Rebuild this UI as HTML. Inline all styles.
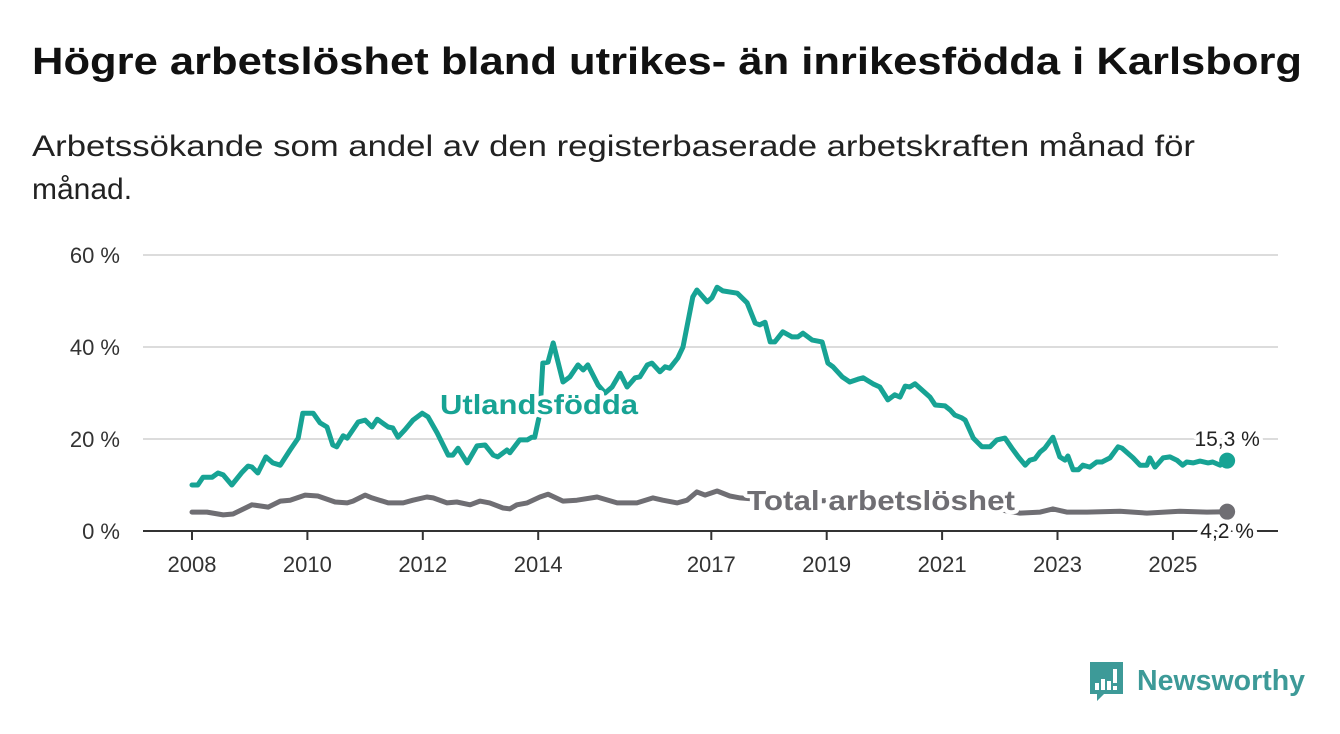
<!DOCTYPE html>
<html><head><meta charset="utf-8"><style>
html,body{margin:0;padding:0;background:#fff;}
svg{display:block;font-family:"Liberation Sans",sans-serif;}
</style></head><body>
<svg id="chart" width="1340" height="734" viewBox="0 0 1340 734">
<text x="32" y="74" font-size="38" font-weight="bold" fill="#111" textLength="1270" lengthAdjust="spacingAndGlyphs">Högre arbetslöshet bland utrikes- än inrikesfödda i Karlsborg</text>
<text x="32" y="156" font-size="30" fill="#222" textLength="1163" lengthAdjust="spacingAndGlyphs">Arbetssökande som andel av den registerbaserade arbetskraften månad för</text>
<text x="32" y="199" font-size="30" fill="#222">månad.</text>
<g id="grid"></g><g id="series"></g><g id="labels"></g>
<g>
<path d="M1090 662 h33 v32 h-19 l-7 7 v-7 h-7 z" fill="#3d9a98"/>
<rect x="1095" y="683" width="4" height="7" fill="#fff"/><rect x="1101" y="679" width="4" height="11" fill="#fff"/><rect x="1107" y="681" width="4" height="9" fill="#fff"/><rect x="1113" y="669" width="4" height="14" fill="#fff"/><rect x="1113" y="686" width="4" height="4" fill="#fff"/>
<text x="1137" y="690" font-size="29" font-weight="bold" fill="#3d9a98" textLength="168" lengthAdjust="spacingAndGlyphs">Newsworthy</text>
</g>
</svg>
<script>
const yTicks=[0,20,40,60];
const xTickYears=[2008,2010,2012,2014,2017,2019,2021,2023,2025];
const utlandsDates=[2008.00,2008.10,2008.19,2008.35,2008.45,2008.54,2008.69,2008.87,2008.97,2009.04,2009.14,2009.28,2009.40,2009.53,2009.70,2009.84,2009.92,2010.10,2010.22,2010.34,2010.44,2010.51,2010.62,2010.69,2010.88,2011.00,2011.12,2011.21,2011.40,2011.48,2011.57,2011.69,2011.83,2011.99,2012.09,2012.25,2012.44,2012.52,2012.61,2012.77,2012.94,2013.08,2013.22,2013.30,2013.46,2013.51,2013.68,2013.81,2013.89,2013.94,2014.03,2014.08,2014.17,2014.26,2014.43,2014.55,2014.69,2014.78,2014.86,2015.04,2015.16,2015.28,2015.42,2015.54,2015.68,2015.76,2015.89,2015.97,2016.11,2016.20,2016.28,2016.42,2016.51,2016.68,2016.75,2016.93,2017.01,2017.10,2017.20,2017.45,2017.62,2017.76,2017.84,2017.93,2018.02,2018.10,2018.24,2018.40,2018.50,2018.59,2018.75,2018.92,2019.02,2019.11,2019.27,2019.40,2019.54,2019.63,2019.80,2019.92,2020.06,2020.18,2020.27,2020.36,2020.44,2020.53,2020.79,2020.88,2021.05,2021.14,2021.22,2021.34,2021.40,2021.54,2021.69,2021.83,2021.95,2022.09,2022.21,2022.32,2022.44,2022.52,2022.61,2022.70,2022.78,2022.92,2023.04,2023.13,2023.18,2023.27,2023.36,2023.44,2023.56,2023.68,2023.77,2023.91,2024.05,2024.12,2024.31,2024.43,2024.55,2024.60,2024.69,2024.83,2024.95,2025.07,2025.17,2025.24,2025.35,2025.47,2025.61,2025.69,2025.82,2025.94];
const utlandsValues=[10.0,10.0,11.7,11.7,12.6,12.2,10.0,12.8,14.1,13.9,12.6,16.1,14.8,14.3,17.6,20.2,25.6,25.6,23.5,22.6,18.7,18.3,20.7,20.2,23.7,24.1,22.6,24.3,22.6,22.4,20.4,22.0,24.1,25.6,24.8,21.3,16.5,16.5,18.0,14.8,18.5,18.7,16.5,16.1,17.6,17.0,19.8,19.8,20.4,20.4,25.6,36.5,36.7,40.9,32.4,33.5,36.1,35.0,36.1,31.7,30.0,31.3,34.3,31.3,33.3,33.5,36.1,36.5,34.6,35.7,35.4,37.6,40.0,50.9,52.4,49.8,50.7,53.0,52.2,51.7,49.6,45.2,44.8,45.4,41.1,41.1,43.3,42.2,42.2,43.0,41.5,41.1,36.5,35.7,33.5,32.4,33.0,33.3,32.0,31.3,28.5,29.6,29.1,31.5,31.3,32.0,29.1,27.4,27.2,26.3,25.2,24.6,24.1,20.2,18.3,18.3,19.8,20.2,18.0,16.1,14.3,15.4,15.7,17.2,18.0,20.4,16.1,15.4,16.3,13.3,13.3,14.3,13.9,15.0,15.0,15.9,18.3,18.0,15.9,14.3,14.3,15.9,13.9,15.9,16.1,15.4,14.3,15.0,14.8,15.2,14.8,15.0,14.3,15.3];
const totalDates=[2008.00,2008.26,2008.54,2008.71,2009.04,2009.32,2009.53,2009.70,2009.96,2010.18,2010.48,2010.69,2010.79,2011.00,2011.12,2011.40,2011.66,2011.83,2012.07,2012.18,2012.42,2012.59,2012.82,2012.99,2013.16,2013.39,2013.51,2013.63,2013.81,2014.03,2014.17,2014.43,2014.67,2015.02,2015.37,2015.71,2015.99,2016.16,2016.41,2016.58,2016.75,2016.89,2017.10,2017.32,2017.50,2017.90,2018.50,2019.00,2019.50,2020.00,2020.50,2021.00,2021.50,2022.00,2022.35,2022.70,2022.92,2023.16,2023.51,2024.08,2024.55,2025.12,2025.59,2025.94];
const totalValues=[4.1,4.1,3.5,3.7,5.7,5.2,6.5,6.7,7.8,7.6,6.3,6.1,6.5,7.8,7.2,6.1,6.1,6.7,7.4,7.2,6.1,6.3,5.7,6.5,6.1,5.0,4.8,5.7,6.1,7.4,8.0,6.5,6.7,7.4,6.1,6.1,7.2,6.7,6.1,6.7,8.5,7.8,8.7,7.6,7.2,6.8,6.5,6.6,6.0,5.6,6.4,6.6,5.2,4.6,3.9,4.1,4.8,4.1,4.1,4.3,3.9,4.3,4.1,4.2];

const NS='http://www.w3.org/2000/svg';
const x0=143,x1=1278;
function xScale(yr){return 192+(yr-2008)*57.7;}
function yScale(v){return 531-v*4.6;}
function mk(tag,attrs,parent){const e=document.createElementNS(NS,tag);for(const k in attrs)e.setAttribute(k,attrs[k]);parent.appendChild(e);return e;}
const grid=document.getElementById('grid'),series=document.getElementById('series'),labels=document.getElementById('labels');
yTicks.forEach(t=>{
  if(t>0){const gl=mk('line',{x1:x0,x2:x1,y1:yScale(t),y2:yScale(t),stroke:'#dcdcdc','stroke-width':2},grid);
  
  }
  const tl=mk('text',{x:120,y:yScale(t)+8,'text-anchor':'end','font-size':22,fill:'#333'},grid);
  tl.textContent=t+' %';
  
  
});
const ax=mk('line',{x1:x0,x2:x1,y1:yScale(0),y2:yScale(0),stroke:'#333','stroke-width':2},grid);


xTickYears.forEach(y=>{
  const tk=mk('line',{x1:xScale(y),x2:xScale(y),y1:531,y2:540,stroke:'#333','stroke-width':2},grid);
  
  
  const tl=mk('text',{x:xScale(y),y:572,'text-anchor':'middle','font-size':22,fill:'#333'},grid);
  tl.textContent=y;
  
  
});
function line(dates,vals,color,name){
  const d=dates.map((t,i)=>(i?'L':'M')+xScale(t).toFixed(1)+' '+yScale(vals[i]).toFixed(1)).join(' ');
  const p=mk('path',{d:d,fill:'none',stroke:color,'stroke-width':5,'stroke-linejoin':'round','stroke-linecap':'round'},series);
  
  
  const n=dates.length-1;
  const c=mk('circle',{cx:xScale(dates[n]),cy:yScale(vals[n]),r:8,fill:color},series);
  
  
}
line(totalDates,totalValues,'#6f6e73','total-line');
line(utlandsDates,utlandsValues,'#17a394','utlandsfodda-line');
function lab(txt,x,y,size,color,bold,anchor,name,len){
  const a={x:x,y:y,'font-size':size,fill:color,'font-weight':bold?'bold':'normal','text-anchor':anchor,stroke:'#fff','stroke-width':8,'paint-order':'stroke','stroke-linejoin':'round'};
  if(len){a.textLength=len;a.lengthAdjust='spacingAndGlyphs';}
  const t=mk('text',a,labels);
  t.textContent=txt;
  
  
}
lab('Utlandsfödda',440,414,28,'#17a394',true,'start','utlandsfodda-label',198);
lab('Total arbetslöshet',747,510,28,'#6f6e73',true,'start','total-label',268);
const nU=utlandsValues.length-1,nT=totalValues.length-1;
lab(String(utlandsValues[nU]).replace('.',',')+' %',xScale(utlandsDates[nU]),446,21,'#222',false,'middle','utlandsfodda-end-value');
lab(String(totalValues[nT]).replace('.',',')+' %',xScale(totalDates[nT]),538,21,'#222',false,'middle','total-end-value');
</script>
</body></html>
